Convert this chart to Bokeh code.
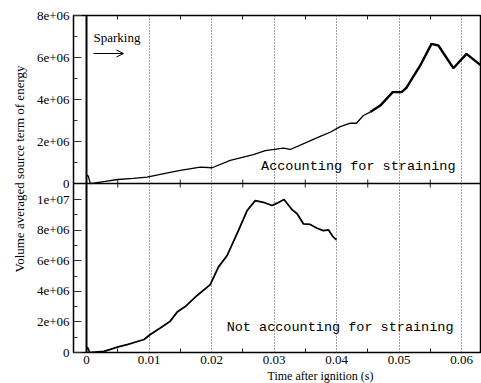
import math
from bokeh.plotting import figure
from bokeh.models import (Range1d, LinearAxis, FixedTicker, Span, Label, Arrow, OpenHead,
                          Title, PrintfTickFormatter, CustomJSTickFormatter)
from bokeh.embed import file_html
from bokeh.resources import INLINE

# ---------------- data ----------------
# upper panel: accounting for straining
t_strain = [0.0, 0.0003, 0.0006, 0.0011, 0.003, 0.005, 0.0075, 0.0097, 0.0118, 0.015,
            0.0182, 0.0201, 0.023, 0.0267, 0.0286, 0.0315, 0.0326, 0.0353, 0.0374, 0.039,
            0.0406, 0.0422, 0.0432, 0.0443, 0.0454, 0.047, 0.049, 0.0504, 0.0512, 0.0534,
            0.0552, 0.0563, 0.0587, 0.0608, 0.0629, 0.0632]
e_strain = [0.4e6, 0.35e6, 0.0, 0.02e6, 0.1e6, 0.19e6, 0.24e6, 0.3e6, 0.43e6, 0.62e6,
            0.78e6, 0.75e6, 1.1e6, 1.38e6, 1.57e6, 1.68e6, 1.62e6, 1.97e6, 2.24e6, 2.44e6,
            2.71e6, 2.87e6, 2.87e6, 3.24e6, 3.40e6, 3.71e6, 4.35e6, 4.35e6, 4.56e6, 5.62e6,
            6.65e6, 6.57e6, 5.49e6, 6.17e6, 5.67e6, 5.6e6]
# lower panel: not accounting for straining
t_nostrain = [0.0, 0.0002, 0.0005, 0.0008, 0.0028, 0.0052, 0.0065, 0.0092, 0.0102, 0.0118,
              0.0134, 0.0145, 0.0158, 0.0177, 0.0198, 0.0211, 0.0225, 0.0243, 0.0257, 0.027,
              0.0283, 0.0297, 0.0305, 0.0316, 0.0329, 0.0337, 0.0347, 0.0358, 0.0369, 0.0379,
              0.0387, 0.0395, 0.04]
e_nostrain = [0.35e6, 0.3e6, 0.0, 0.0, 0.08e6, 0.39e6, 0.52e6, 0.85e6, 1.18e6, 1.6e6,
              2.05e6, 2.64e6, 3.0e6, 3.73e6, 4.44e6, 5.58e6, 6.34e6, 7.97e6, 9.28e6, 9.93e6,
              9.82e6, 9.61e6, 9.76e6, 10.0e6, 9.33e6, 9.07e6, 8.41e6, 8.37e6, 8.12e6, 7.97e6,
              8.02e6, 7.54e6, 7.37e6]
spark_time = 0.0

x_major = [0.0, 0.01, 0.02, 0.03, 0.04, 0.05, 0.06]
x_minor = [0.005, 0.015, 0.025, 0.035, 0.045, 0.055]
top_ticks = [0.0, 2e6, 4e6, 6e6, 8e6]
top_minor = [1e6, 3e6, 5e6, 7e6]
bot_ticks = [0.0, 2e6, 4e6, 6e6, 8e6, 1e7]
bot_minor = [1e6, 3e6, 5e6, 7e6, 9e6]

# ---------------- layout ----------------
W, H = 481, 383
LEFT, TOP, BOTTOM = 73, 15, 31
FRAME_W = W - LEFT
FRAME_H = H - TOP - BOTTOM          # 337
SPLIT = 169                          # px above frame bottom where panels meet
BOT_MAX = 1.1046e7                   # lower panel top value
TOP_MAX = 8e6
X0, X1 = -0.00208, 0.0632
main_end = BOT_MAX * FRAME_H / SPLIT
top_start = -TOP_MAX * SPLIT / (FRAME_H - SPLIT)

def to_main(v):
    return (v - top_start) / (TOP_MAX - top_start) * main_end

def px_to_x(px):
    return X0 + (px - LEFT) / FRAME_W * (X1 - X0)

def py_to_main(py):
    return (TOP + FRAME_H - py) / FRAME_H * main_end

SERIF = "Times"
MONO = "Courier"

p = figure(width=W, height=H, x_range=Range1d(X0, X1),
           y_range=Range1d(0, main_end), output_backend="svg", toolbar_location=None,
           min_border_left=LEFT, min_border_right=0, min_border_top=TOP,
           min_border_bottom=BOTTOM, title=None)
p.extra_y_ranges = {"top": Range1d(top_start, TOP_MAX)}
p.background_fill_color = "white"
p.border_fill_color = "white"
p.outline_line_color = "black"
p.outline_line_width = 1.5

# y axis (both panels on one axis; labels of the upper panel mapped back to its own range)
yt = bot_ticks + [to_main(v) for v in top_ticks]
ym = bot_minor + [to_main(v) for v in top_minor]
ya = p.yaxis[0]
ya.ticker = FixedTicker(ticks=yt, minor_ticks=ym)
ya.formatter = CustomJSTickFormatter(
    args=dict(split=BOT_MAX, top_start=top_start, top_max=TOP_MAX, main_end=main_end),
    code="""
    let v = tick;
    if (tick > split * 0.9999) { v = top_start + tick / main_end * (top_max - top_start); }
    v = Math.round(v / 1000) * 1000;
    if (Math.abs(v) < 1) { return "0"; }
    const s = v.toExponential(0);
    return s.replace(/e([+-])(\\d)$/, "e$10$2");
    """)
ya.major_tick_in = 8
ya.major_tick_out = 0
ya.minor_tick_in = 4
ya.minor_tick_out = 0
ya.major_tick_line_color = "#333333"
ya.minor_tick_line_color = "#333333"
ya.axis_line_color = None
ya.major_label_text_font = SERIF
ya.major_label_text_font_size = "13px"
ya.major_label_text_color = "black"
ya.major_label_standoff = 4

xa = p.xaxis[0]
xa.ticker = FixedTicker(ticks=x_major, minor_ticks=x_minor)
xa.formatter = PrintfTickFormatter(format="%g")
xa.major_tick_in = 0
xa.major_tick_out = 0
xa.minor_tick_in = 4
xa.minor_tick_out = 0
xa.minor_tick_line_color = "#222222"
xa.axis_line_color = None
xa.major_label_text_font = SERIF
xa.major_label_text_font_size = "13px"
xa.major_label_text_color = "black"
xa.major_label_standoff = 3

xtop = LinearAxis(ticker=FixedTicker(ticks=x_major, minor_ticks=x_minor),
                  major_tick_in=0, major_tick_out=0, minor_tick_in=4, minor_tick_out=0,
                  minor_tick_line_color="#222222", axis_line_color=None,
                  major_label_overrides={float(k): "" for k in x_major})
p.add_layout(xtop, "above")

p.xgrid.ticker = FixedTicker(ticks=x_major[1:])
p.xgrid.grid_line_color = "#444444"
p.xgrid.grid_line_dash = "1 2"
p.xgrid.grid_line_width = 1
p.ygrid.visible = False

# axis titles
p.add_layout(Title(text="Volume averaged source term of energy", align="right", offset=50,
                   text_font=SERIF, text_font_size="13px", text_font_style="normal",
                   text_color="black", standoff=14), "left")
p.add_layout(Title(text="Time after ignition (s)", align="left", offset=194,
                   text_font=SERIF, text_font_size="12px", text_font_style="normal",
                   text_color="black", standoff=0), "below")

# panel separator and its ticks
p.add_layout(Span(location=BOT_MAX, dimension="width", line_color="black", line_width=1.5))
d = 4 * main_end / FRAME_H
p.segment(x0=x_minor, x1=x_minor, y0=[BOT_MAX - d] * len(x_minor),
          y1=[BOT_MAX + d] * len(x_minor), line_color="#222222", line_width=1)

# spark line
p.add_layout(Span(location=spark_time, dimension="height", line_color="black", line_width=2))

# data curves
n_thin = 24
p.line(t_strain[:n_thin + 1], e_strain[:n_thin + 1], y_range_name="top",
       line_color="black", line_width=1.3)
p.line(t_strain[n_thin:], e_strain[n_thin:], y_range_name="top",
       line_color="black", line_width=2.4)
p.line(t_nostrain, e_nostrain, line_color="black", line_width=1.8)

# annotations
p.add_layout(Label(x=px_to_x(455), y=py_to_main(166), text="Accounting for straining",
                   text_font=MONO, text_font_size="13.5px", text_align="right",
                   text_baseline="middle", text_color="black"))
p.add_layout(Label(x=px_to_x(453), y=py_to_main(327), text="Not accounting for straining",
                   text_font=MONO, text_font_size="13.5px", text_align="right",
                   text_baseline="middle", text_color="black"))
p.add_layout(Label(x=px_to_x(93), y=py_to_main(37), text="Sparking",
                   text_font=SERIF, text_font_size="13px", text_align="left",
                   text_baseline="middle", text_color="black"))
p.add_layout(Arrow(x_start=px_to_x(93), x_end=px_to_x(123), y_start=py_to_main(53),
                   y_end=py_to_main(53), line_width=1, line_color="black",
                   end=OpenHead(size=7, line_width=1, line_color="black")))

open("out.html", "w").write(file_html(p, INLINE))
